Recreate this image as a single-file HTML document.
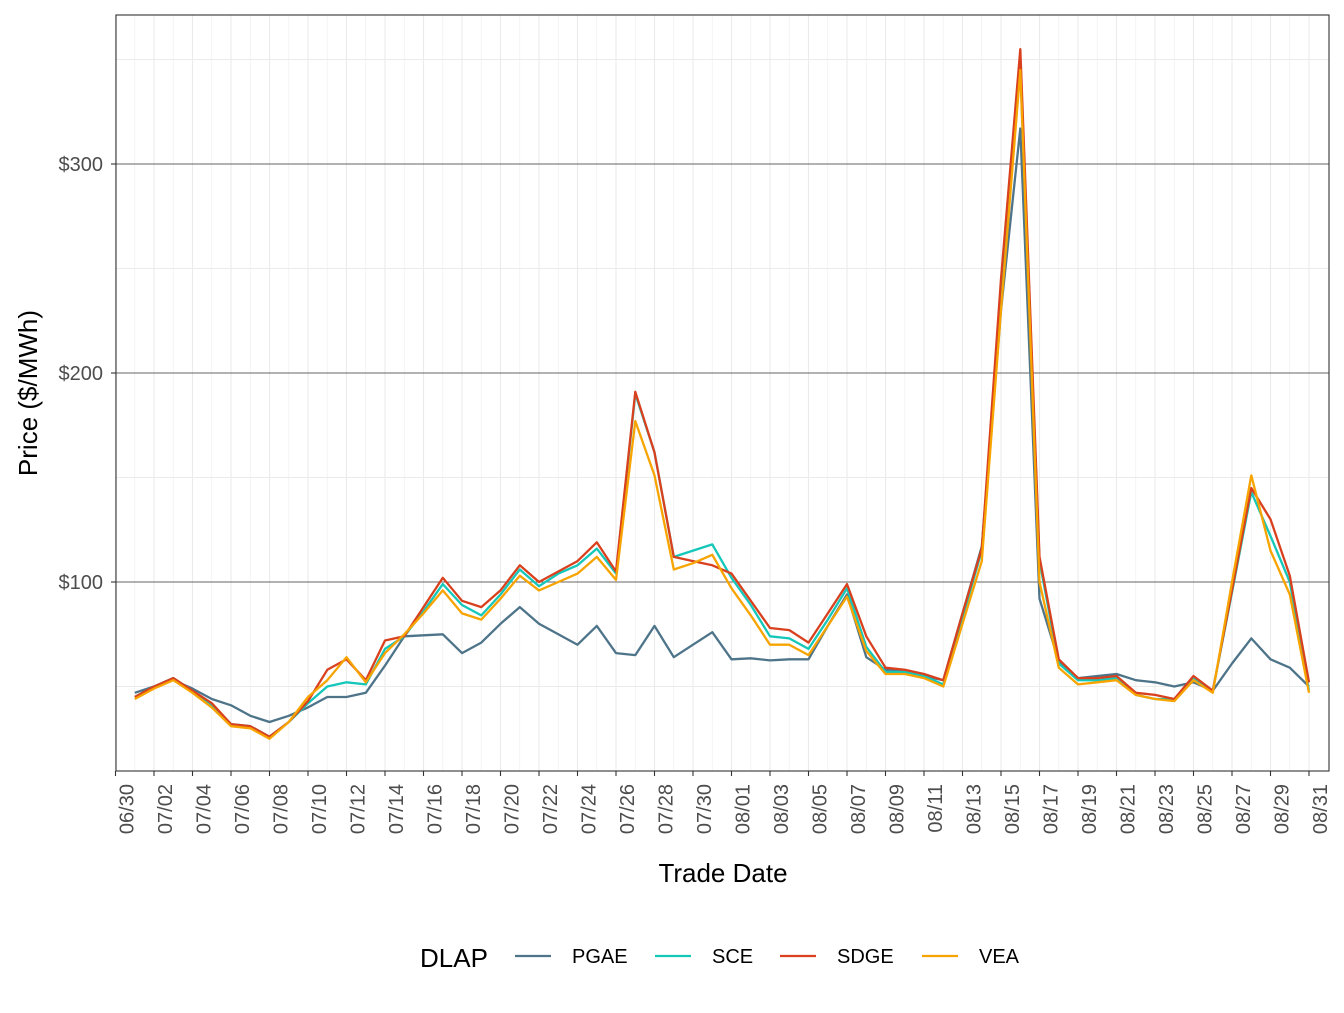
<!DOCTYPE html>
<html><head><meta charset="utf-8"><style>
body{margin:0;background:#fff;font-family:"Liberation Sans",sans-serif}
svg text{font-family:"Liberation Sans",sans-serif}
</style></head><body>
<svg id="chart" width="1344" height="1008" viewBox="0 0 1344 1008" xmlns="http://www.w3.org/2000/svg">
<rect x="0" y="0" width="1344" height="1008" fill="#fff"/>
<g id="grid"></g><g id="series"></g><g id="axes"></g><g id="legend"></g>
</svg>
<script>
const pgae=[47,50,53,49,44,41,36,33,36,40,45,45,47,60,74,74.5,75,66,71,80,88,80,75,70,79,66,65,79,64,70,76,63,63.5,62.5,63,63,79,94,64,58,57,55,53,85,117,230,317,92,62,54,55,56,53,52,50,52,48,61,73,63,59,50];
const sce=[45,50,54,48,41,32,31,26,33,42,50,52,51,68,74,86,99,89,84,94,106,98,104,108,116,104,190,162,112,115,118,102,89,74,73,68,82,97,69,57,57,55,51,83,115,240,345,110,61,53,53,54,46,44,44,54,48,95,143,122,100,48];
const sdge=[45,50,54,48,42,32,31,26,33,43,58,63,53,72,74,88,102,91,88,96,108,100,105,110,119,105,191,162,112,110,108,104,91,78,77,71,85,99,74,59,58,56,53,85,116,245,355,112,63,54,54,55,47,46,44,55,48,96,145,130,103,52];
const vea=[44,49,53,47,40,31,30,25,33,45,53,64,52,66,75,85,96,85,82,92,103,96,100,104,112,101,177,151,106,109,113,97,84,70,70,65,79,93,67,56,56,54,50,80,110,230,345,100,59,51,52,53,46,44,43,53,47,100,151,115,94,47];
const yTicks=[100,200,300];
const yTickLabels=["$100","$200","$300"];
const xTickLabels=["06/30","07/02","07/04","07/06","07/08","07/10","07/12","07/14","07/16","07/18","07/20","07/22","07/24","07/26","07/28","07/30","08/01","08/03","08/05","08/07","08/09","08/11","08/13","08/15","08/17","08/19","08/21","08/23","08/25","08/27","08/29","08/31"];
const seriesNames=["PGAE","SCE","SDGE","VEA"];
const colors=["#4e7489","#14c7b9","#d9401e","#f8a400"];
const NS="http://www.w3.org/2000/svg";
const L=116,R=1329,T=15,B=771;
const xs=d=>115.5+19.25*d;
const ys=v=>791-2.09*v;
function mk(tag,attrs,parent,txt){const e=document.createElementNS(NS,tag);for(const k in attrs)e.setAttribute(k,attrs[k]);if(txt!==undefined)e.textContent=txt;parent.appendChild(e);return e;}
const grid=document.getElementById('grid'),ser=document.getElementById('series'),ax=document.getElementById('axes'),leg=document.getElementById('legend');
for(let d=0;d<=62;d++){const g=mk('line',{x1:xs(d),x2:xs(d),y1:T,y2:B,stroke:d%2?'#f2f2f2':'#ebebeb','stroke-width':d%2?0.8:1.1},grid);

}
[50,150,250,350].forEach(v=>{const g=mk('line',{x1:L,x2:R,y1:ys(v),y2:ys(v),stroke:'#ebebeb','stroke-width':0.9},grid);

});
yTicks.forEach((v,i)=>{const g=mk('line',{x1:L,x2:R,y1:ys(v),y2:ys(v),stroke:'#333','stroke-width':0.7},grid);


const t=mk('text',{x:103,y:ys(v)+7,'text-anchor':'end','font-size':20,fill:'#4d4d4d'},ax,yTickLabels[i]);


const tk=mk('line',{x1:L-5,x2:L,y1:ys(v),y2:ys(v),stroke:'#333','stroke-width':1.1},ax);

});
[pgae,sce,sdge,vea].forEach((arr,si)=>{const pts=arr.map((v,i)=>xs(i+1).toFixed(1)+','+ys(v).toFixed(1)).join(' ');
const p=mk('polyline',{points:pts,fill:'none',stroke:colors[si],'stroke-width':2.3,'stroke-linejoin':'round'},ser);

});
const fr=mk('rect',{x:L,y:T,width:R-L,height:B-T,fill:'none',stroke:'#333','stroke-width':1.1},ax);


xTickLabels.forEach((lab,i)=>{const x=xs(i*2);
const tk=mk('line',{x1:x,x2:x,y1:B,y2:B+5,stroke:'#333','stroke-width':1.1},ax);


const t=mk('text',{x:0,y:0,transform:`translate(${x+18},784) rotate(-90)`,'text-anchor':'end','font-size':20,fill:'#4d4d4d'},ax,lab);

});
let t=mk('text',{x:723,y:882,'text-anchor':'middle','font-size':26,fill:'#000'},ax,'Trade Date');


t=mk('text',{x:0,y:0,transform:'translate(37,393) rotate(-90)','text-anchor':'middle','font-size':26,fill:'#000'},ax,'Price ($/MWh)');


t=mk('text',{x:420,y:967,'font-size':26,fill:'#000'},leg,'DLAP');


const lx=[515,655,780,922];
seriesNames.forEach((n,i)=>{const g=mk('g',{},leg);


mk('line',{x1:lx[i],x2:lx[i]+36,y1:956,y2:956,stroke:colors[i],'stroke-width':2.3},g);
mk('text',{x:lx[i]+57,y:963,'font-size':20,fill:'#000'},g,n);});
</script>
</body></html>
